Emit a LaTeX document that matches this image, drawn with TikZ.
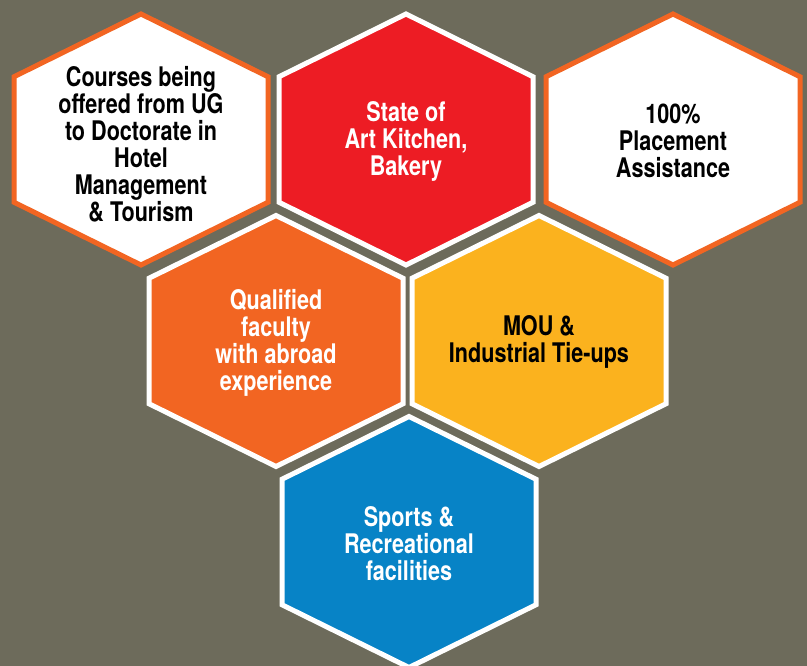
\documentclass[tikz,border=0pt]{standalone}
\usepackage{fontspec}
\setmainfont{TeX Gyre Heros}[FakeStretch=0.80]
\usetikzlibrary{positioning}

\definecolor{bgolive}{RGB}{109,107,91}
\definecolor{hexred}{RGB}{237,28,36}
\definecolor{hexorange}{RGB}{242,101,34}
\definecolor{hexyellow}{RGB}{251,178,30}
\definecolor{hexblue}{RGB}{7,131,198}

\begin{document}
\begin{tikzpicture}[x = 1pt, y = -1pt,
  cell/.style = {line width = 5pt, line join = miter},
  celltext/.style = {align = center, inner sep = 0pt, font = \bfseries\fontsize{27}{27}\selectfont}]
\useasboundingbox[fill = bgolive] (0,0) rectangle (807,666);
% six hexagon cells
\foreach \cx/\cy/\fillc/\edgec in {141/139.5/white/hexorange, 406/139.5/hexred/white, 673/139.5/white/hexorange,
  276/341/hexorange/white, 539/341/hexyellow/white, 409/542/hexblue/white}
  \draw[cell, fill = \fillc, draw = \edgec] (\cx,\cy) ++(0,-125.5) -- ++(127,62.75) -- ++(0,125.5)
    -- ++(-127,62.75) -- ++(-127,-62.75) -- ++(0,-125.5) -- cycle;
\node[celltext] (courses) at (141,144.5) {Courses being\\offered from UG\\to Doctorate in\\Hotel\\Management\\\& Tourism};
\node[celltext, text = white] (kitchen) at (406,141.5) {State of\\Art Kitchen,\\Bakery};
\node[celltext] (placement) at (673,141) {100\%\\Placement\\Assistance};
\node[celltext, text = white] (faculty) at (276,343) {Qualified\\faculty\\with abroad\\experience};
\node[celltext] (mou) at (539,342) {MOU \&\\Industrial Tie-ups};
\node[celltext, text = white] (sports) at (409,544) {Sports \&\\Recreational\\facilities};
\end{tikzpicture}
\end{document}
